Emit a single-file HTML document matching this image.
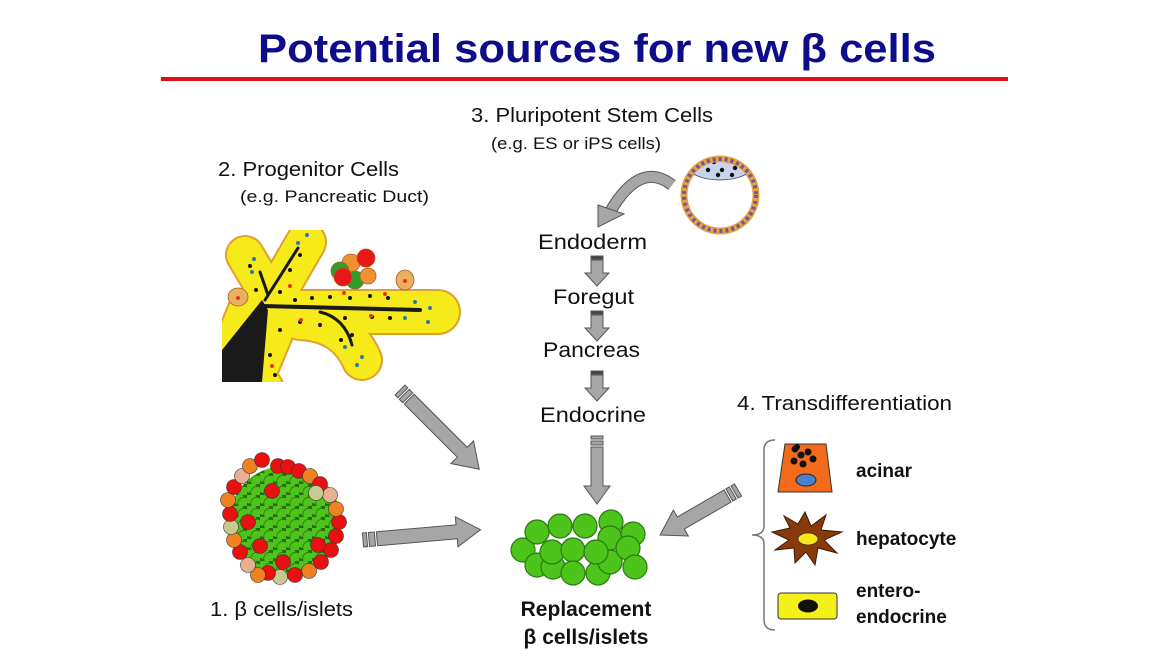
<!DOCTYPE html>
<html><head><meta charset="utf-8"><style>
html,body{margin:0;padding:0;background:#fff;}
svg{display:block;}
text{font-family:"Liberation Sans",sans-serif;}
</style></head><body>
<svg width="1170" height="658" viewBox="0 0 1170 658" xmlns="http://www.w3.org/2000/svg">
<defs>
<pattern id="isl" x="0" y="0" width="13" height="11" patternUnits="userSpaceOnUse">
<rect width="13" height="11" fill="#2a6a14"/>
<circle cx="3.5" cy="3" r="6.2" fill="#4cc41c" stroke="#2a7010" stroke-width="0.8"/>
<circle cx="10" cy="8.5" r="6.2" fill="#4cc41c" stroke="#2a7010" stroke-width="0.8"/>
</pattern>
<clipPath id="ductclip"><rect x="222" y="230" width="240" height="152"/></clipPath>
<clipPath id="innerclip"><circle cx="720" cy="195" r="33"/></clipPath>
</defs>

<!-- title -->
<text x="258" y="62" textLength="678" lengthAdjust="spacingAndGlyphs" font-size="40" font-weight="bold" fill="#0d0d8c">Potential sources for new β cells</text>
<rect x="161" y="77" width="847" height="4" fill="#e01010"/>

<!-- labels -->
<text x="471" y="122" font-size="20" textLength="242" lengthAdjust="spacingAndGlyphs" fill="#111">3. Pluripotent Stem Cells</text>
<text x="491" y="149" font-size="17" textLength="170" lengthAdjust="spacingAndGlyphs" fill="#111">(e.g. ES or iPS cells)</text>
<text x="218" y="176" font-size="20" textLength="181" lengthAdjust="spacingAndGlyphs" fill="#111">2. Progenitor Cells</text>
<text x="240" y="202" font-size="17" textLength="189" lengthAdjust="spacingAndGlyphs" fill="#111">(e.g. Pancreatic Duct)</text>
<g font-size="21" fill="#111">
<text x="538" y="249" textLength="109" lengthAdjust="spacingAndGlyphs">Endoderm</text>
<text x="553" y="304" textLength="81" lengthAdjust="spacingAndGlyphs">Foregut</text>
<text x="543" y="357" textLength="97" lengthAdjust="spacingAndGlyphs">Pancreas</text>
<text x="540" y="422" textLength="106" lengthAdjust="spacingAndGlyphs">Endocrine</text>
</g>
<text x="737" y="410" font-size="20" textLength="215" lengthAdjust="spacingAndGlyphs" fill="#111">4. Transdifferentiation</text>
<text x="210" y="616" font-size="20" textLength="143" lengthAdjust="spacingAndGlyphs" fill="#111">1. β cells/islets</text>
<text x="586" y="616" font-size="21" font-weight="bold" text-anchor="middle" fill="#111">Replacement</text>
<text x="586" y="644" font-size="21" font-weight="bold" text-anchor="middle" fill="#111">β cells/islets</text>

<!-- pluripotent cell -->
<circle cx="720" cy="195" r="36" fill="none" stroke="#e8a040" stroke-width="7"/>
<circle cx="720" cy="195" r="36" fill="none" stroke="#6a5aa0" stroke-width="4" stroke-dasharray="3 3"/>
<g clip-path="url(#innerclip)">
<ellipse cx="720" cy="164" rx="34" ry="16" fill="#c8d4ee" stroke="#333" stroke-width="0.8"/>
<g fill="#111">
<circle cx="700" cy="163" r="2.2"/><circle cx="708" cy="170" r="2.2"/><circle cx="714" cy="162" r="2.2"/><circle cx="722" cy="170" r="2.2"/><circle cx="728" cy="161" r="2.2"/><circle cx="735" cy="168" r="2.2"/><circle cx="742" cy="162" r="2.2"/><circle cx="718" cy="175" r="2.2"/><circle cx="706" cy="158" r="2.2"/><circle cx="732" cy="175" r="2.2"/>
</g>
</g>

<!-- curved arrow -->
<path d="M672,185 Q640,160 610,212" fill="none" stroke="#555" stroke-width="12"/>
<path d="M672,185 Q640,160 610,212" fill="none" stroke="#a6a6a6" stroke-width="10"/>
<polygon points="598,227 598,205 624,214" fill="#a6a6a6" stroke="#555" stroke-width="1"/>

<!-- arrows -->
<g fill="#a6a6a6" stroke="#555" stroke-width="1">
<g transform="translate(597,256)">
<rect x="-6" y="0" width="12" height="3" fill="#444"/><polygon points="-6,4 6,4 6,17 12,17 0,30 -12,17 -6,17"/></g>
<g transform="translate(597,311)">
<rect x="-6" y="0" width="12" height="3" fill="#444"/><polygon points="-6,4 6,4 6,17 12,17 0,30 -12,17 -6,17"/></g>
<g transform="translate(597,371)">
<rect x="-6" y="0" width="12" height="3" fill="#444"/><polygon points="-6,4 6,4 6,17 12,17 0,30 -12,17 -6,17"/></g>
<g transform="translate(597,436)">
<rect x="-6" y="0" width="12" height="3"/><rect x="-6" y="5" width="12" height="4"/>
<polygon points="-6,11 6,11 6,50 13,50 0,68 -13,50 -6,50"/></g>
<g transform="translate(400,390) rotate(45)">
<rect x="0" y="-7" width="4" height="14"/><rect x="6" y="-7" width="5" height="14"/>
<polygon points="13,-7 88,-7 88,-16 112,0 88,16 88,7 13,7"/></g>
<g transform="translate(363,540) rotate(-5)">
<rect x="0" y="-7" width="4" height="14"/><rect x="6" y="-7" width="6" height="14"/>
<polygon points="14,-7 94,-7 94,-15 118,0 94,15 94,7 14,7"/></g>
<g transform="translate(738,490) rotate(150)">
<rect x="0" y="-7" width="4" height="14"/><rect x="6" y="-7" width="4" height="14"/>
<polygon points="12,-7 66,-7 66,-15 90,0 66,15 66,7 12,7"/></g>
</g>

<!-- islet -->
<circle cx="285" cy="522" r="56" fill="url(#isl)"/>
<g stroke="#333" stroke-width="0.6">
<circle cx="339" cy="522" r="7.5" fill="#e81010"/>
<circle cx="336" cy="536" r="7.5" fill="#e81010"/>
<circle cx="331" cy="550" r="7.5" fill="#e81010"/>
<circle cx="321" cy="562" r="7.5" fill="#e81010"/>
<circle cx="309" cy="571" r="7.5" fill="#f08020"/>
<circle cx="295" cy="575" r="7.5" fill="#e81010"/>
<circle cx="280" cy="577" r="7.5" fill="#c8c890"/>
<circle cx="268" cy="573" r="7.5" fill="#e81010"/>
<circle cx="258" cy="575" r="7.5" fill="#f08020"/>
<circle cx="248" cy="565" r="7.5" fill="#e8b090"/>
<circle cx="240" cy="552" r="7.5" fill="#e81010"/>
<circle cx="234" cy="540" r="7.5" fill="#f08020"/>
<circle cx="231" cy="527" r="7.5" fill="#c8c890"/>
<circle cx="230" cy="514" r="7.5" fill="#e81010"/>
<circle cx="228" cy="500" r="7.5" fill="#f08020"/>
<circle cx="234" cy="487" r="7.5" fill="#e81010"/>
<circle cx="242" cy="476" r="7.5" fill="#e8b090"/>
<circle cx="250" cy="466" r="7.5" fill="#f08020"/>
<circle cx="262" cy="460" r="7.5" fill="#e81010"/>
<circle cx="278" cy="466" r="7.5" fill="#e81010"/>
<circle cx="288" cy="467" r="7.5" fill="#e81010"/>
<circle cx="299" cy="471" r="7.5" fill="#e81010"/>
<circle cx="310" cy="476" r="7.5" fill="#f08020"/>
<circle cx="320" cy="484" r="7.5" fill="#e81010"/>
<circle cx="330" cy="495" r="7.5" fill="#e8b090"/>
<circle cx="336" cy="509" r="7.5" fill="#f08020"/>
<circle cx="272" cy="491" r="7.5" fill="#e81010"/>
<circle cx="318" cy="545" r="7.5" fill="#e81010"/>
<circle cx="260" cy="546" r="7.5" fill="#e81010"/>
<circle cx="283" cy="562" r="7.5" fill="#e81010"/>
<circle cx="248" cy="522" r="7.5" fill="#e81010"/>
<circle cx="316" cy="493" r="7.5" fill="#c8c890"/>
</g>

<!-- replacement green cells -->
<g fill="#4cc41c" stroke="#2a7a10" stroke-width="1.2">
<circle cx="523" cy="550" r="12"/><circle cx="537" cy="565" r="12"/><circle cx="537" cy="532" r="12"/>
<circle cx="560" cy="526" r="12"/><circle cx="585" cy="526" r="12"/><circle cx="611" cy="522" r="12"/>
<circle cx="610" cy="538" r="12"/><circle cx="633" cy="534" r="12"/>
<circle cx="553" cy="567" r="12"/><circle cx="552" cy="552" r="12"/><circle cx="573" cy="550" r="12"/>
<circle cx="573" cy="573" r="12"/><circle cx="598" cy="573" r="12"/><circle cx="610" cy="562" r="12"/>
<circle cx="596" cy="552" r="12"/><circle cx="628" cy="548" r="12"/><circle cx="635" cy="567" r="12"/>
</g>

<!-- duct -->
<g clip-path="url(#ductclip)" stroke-linecap="round" stroke-linejoin="round" fill="none">
<g stroke="#e0a030">
<path d="M230,395 L262,318" stroke-width="74"/>
<path d="M262,318 L306,242" stroke-width="42"/>
<path d="M245,255 L275,305" stroke-width="40"/>
<path d="M262,312 L438,312" stroke-width="46"/>
<path d="M300,320 Q345,322 362,360" stroke-width="42"/>
<path d="M222,360 L250,395" stroke-width="72"/>
</g>
<g stroke="#f6ea1a">
<path d="M230,395 L262,318" stroke-width="70"/>
<path d="M262,318 L306,242" stroke-width="38"/>
<path d="M245,255 L275,305" stroke-width="36"/>
<path d="M262,312 L438,312" stroke-width="42"/>
<path d="M300,320 Q345,322 362,360" stroke-width="38"/>
<path d="M222,360 L250,395" stroke-width="68"/>
</g>
<polygon points="222,382 222,350 262,300 268,310 262,382" fill="#1a1a1a"/>
<g stroke="#1a1a1a">
<path d="M262,306 L420,310" stroke-width="4"/>
<path d="M265,300 L298,248" stroke-width="3"/>
<path d="M268,295 L260,272" stroke-width="3"/>
<path d="M320,312 Q345,318 352,345" stroke-width="3"/>
</g>
<g fill="#111" stroke="none">
<circle cx="280" cy="292" r="2"/><circle cx="290" cy="270" r="2"/><circle cx="300" cy="255" r="2"/><circle cx="256" cy="290" r="2"/>
<circle cx="295" cy="300" r="2"/><circle cx="312" cy="298" r="2"/><circle cx="330" cy="297" r="2"/><circle cx="350" cy="298" r="2"/><circle cx="370" cy="296" r="2"/><circle cx="388" cy="298" r="2"/>
<circle cx="300" cy="322" r="2"/><circle cx="320" cy="325" r="2"/><circle cx="345" cy="318" r="2"/><circle cx="372" cy="317" r="2"/><circle cx="390" cy="318" r="2"/>
<circle cx="280" cy="330" r="2"/><circle cx="270" cy="355" r="2"/><circle cx="275" cy="375" r="2"/>
<circle cx="352" cy="335" r="2"/><circle cx="341" cy="340" r="2"/><circle cx="250" cy="266" r="2"/>
</g>
<g fill="#2a7ab0" stroke="none">
<circle cx="307" cy="235" r="2"/><circle cx="298" cy="243" r="2"/><circle cx="254" cy="259" r="2"/><circle cx="252" cy="272" r="2"/>
<circle cx="415" cy="302" r="2"/><circle cx="430" cy="308" r="2"/><circle cx="405" cy="318" r="2"/><circle cx="428" cy="322" r="2"/>
<circle cx="345" cy="347" r="2"/><circle cx="362" cy="357" r="2"/><circle cx="357" cy="365" r="2"/>
</g>
<g fill="#e03a10" stroke="none">
<circle cx="290" cy="286" r="2"/><circle cx="344" cy="293" r="2"/><circle cx="385" cy="294" r="2"/><circle cx="301" cy="320" r="2"/><circle cx="272" cy="366" r="2"/><circle cx="371" cy="316" r="2"/>
</g>
</g>
<g stroke="#b06020" stroke-width="0.8">
<ellipse cx="238" cy="297" rx="10" ry="9" fill="#e8b060"/>
<ellipse cx="405" cy="280" rx="9" ry="10" fill="#e8b060"/>
<circle cx="351" cy="263" r="9" fill="#f09030"/>
<circle cx="366" cy="258" r="9" fill="#e81818"/>
<circle cx="340" cy="271" r="9" fill="#2aa02a"/>
<circle cx="355" cy="280" r="9" fill="#2aa02a"/>
<circle cx="368" cy="276" r="8" fill="#f09030"/>
<circle cx="343" cy="277" r="9" fill="#e81818"/>
</g>
<g fill="#e03a10"><circle cx="238" cy="298" r="2"/><circle cx="405" cy="281" r="2"/></g>

<!-- bracket -->
<path d="M775,440 Q764,440 764,450 L764,526 Q764,535 752,535 Q764,535 764,544 L764,620 Q764,630 775,630" fill="none" stroke="#777" stroke-width="1.5"/>

<!-- acinar -->
<polygon points="785,444 826,444 832,492 778,492" fill="#f26a1a" stroke="#333" stroke-width="1"/>
<ellipse cx="806" cy="480" rx="10" ry="6" fill="#4a80d0" stroke="#222" stroke-width="1"/>
<g fill="#111"><circle cx="795" cy="449" r="3.5"/><circle cx="801" cy="455" r="3.5"/><circle cx="794" cy="461" r="3.5"/><circle cx="808" cy="452" r="3.5"/><circle cx="813" cy="459" r="3.5"/><circle cx="803" cy="464" r="3.5"/><circle cx="797" cy="447" r="3"/></g>
<text x="856" y="477" font-size="19" font-weight="bold" fill="#111">acinar</text>

<!-- hepatocyte -->
<polygon points="805,512 811,526 826,515 821,530 842,532 824,540 837,553 818,548 815,565 806,552 795,563 794,548 775,550 789,540 772,532 790,528 784,516 798,524" fill="#8a3a0a" stroke="#3a1a05" stroke-width="1"/>
<ellipse cx="808" cy="539" rx="10" ry="6" fill="#f6e81a" stroke="#333" stroke-width="0.8"/>
<text x="856" y="545" font-size="19" font-weight="bold" fill="#111">hepatocyte</text>

<!-- entero -->
<rect x="778" y="593" width="59" height="26" rx="3" fill="#f6f01a" stroke="#333" stroke-width="1"/>
<ellipse cx="808" cy="606" rx="10" ry="6.5" fill="#111"/>
<text x="856" y="597" font-size="19" font-weight="bold" fill="#111">entero-</text>
<text x="856" y="623" font-size="19" font-weight="bold" fill="#111">endocrine</text>
</svg>
</body></html>
